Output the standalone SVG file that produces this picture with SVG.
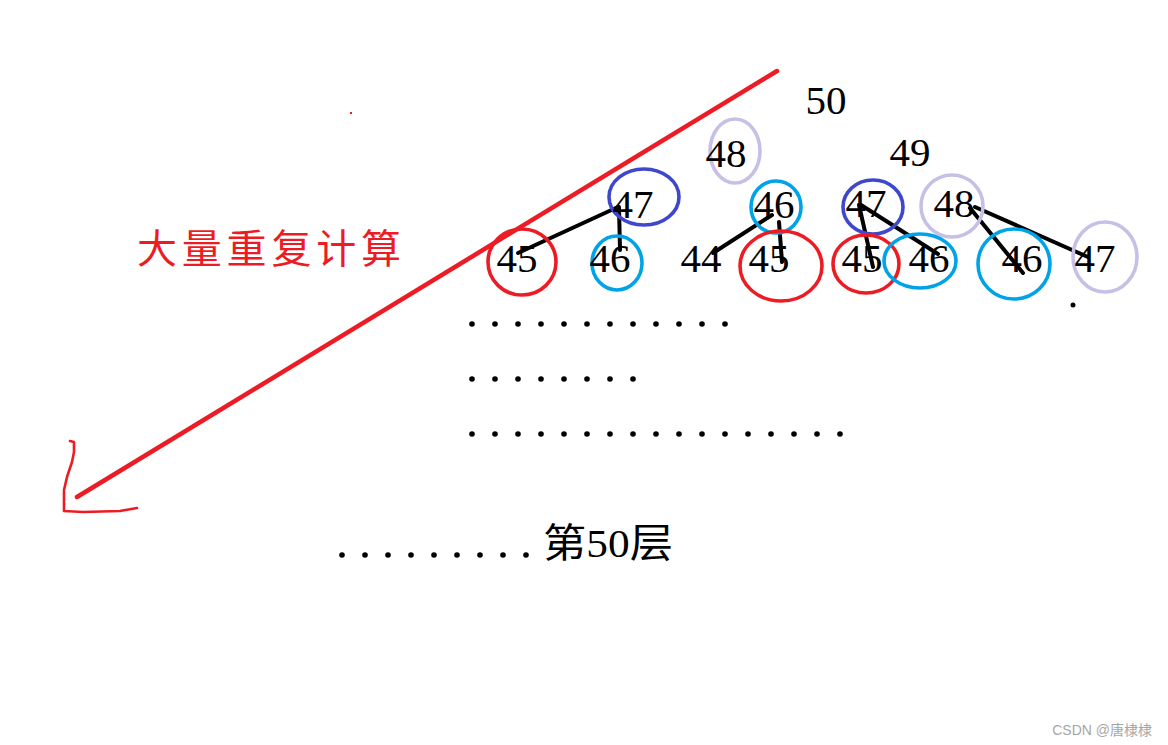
<svg xmlns="http://www.w3.org/2000/svg" width="1168" height="745" viewBox="0 0 1168 745">
<style>
.num{font-family:"Liberation Serif","DejaVu Serif",serif;font-size:41px;fill:#000;text-anchor:middle}
.e{fill:none;stroke-width:3.6}
.red{stroke:#ed1c24}
.cyan{stroke:#00a2e8}
.dblue{stroke:#3f48cc}
.lav{stroke:#c8bfe7}
.ln{stroke:#000;stroke-width:4;stroke-linecap:round;fill:none}
.dot{fill:#000}
</style>
<rect width="1168" height="745" fill="#fff"/>

<g id="red-arrow" fill="none" stroke="#ed1c24" stroke-linecap="round" stroke-linejoin="round">
  <line x1="777" y1="71" x2="77" y2="497" stroke-width="4.5"/>
  <path d="M70,441 L74,442 L74,452 L72,462 L67,477 L64,490 L64,511 L83,512 L120,511 L137,508" stroke-width="2.6"/>
  <rect x="350" y="112" width="2" height="2" fill="#ed1c24" stroke="none"/>
</g>
<text id="label-repeat" x="137" y="263" font-family="'Noto Sans CJK SC',sans-serif" font-size="40" fill="#ed1c24" textLength="264" lengthAdjust="spacing">大量重复计算</text>

<g id="connectors">
  <line class="ln" x1="618" y1="207" x2="518" y2="253"/>
  <line class="ln" x1="619" y1="207" x2="620" y2="250"/>
  <line class="ln" x1="772" y1="215" x2="713" y2="253"/>
  <line class="ln" x1="779" y1="222" x2="782" y2="262"/>
  <line class="ln" x1="859" y1="205" x2="873" y2="267"/>
  <line class="ln" x1="861" y1="205" x2="938" y2="254"/>
  <line class="ln" x1="970" y1="208" x2="1023" y2="273"/>
  <line class="ln" x1="975" y1="207" x2="1088" y2="257"/>
  <circle cx="1073" cy="305" r="2.5" class="dot"/>
</g>

<g id="n50"><text class="num" x="826" y="114">50</text></g>
<g id="n49"><text class="num" x="910" y="166">49</text></g>
<g id="n48a"><ellipse class="e lav" cx="735" cy="151" rx="25" ry="32"/><text class="num" x="726" y="167">48</text></g>
<g id="n47a"><ellipse class="e dblue" cx="644" cy="197" rx="35" ry="28"/><text class="num" x="633" y="218">47</text></g>
<g id="n46a"><ellipse class="e cyan" cx="776" cy="207" rx="25" ry="26"/><text class="num" x="774" y="218">46</text></g>
<g id="n47b"><ellipse class="e dblue" cx="873" cy="207" rx="30" ry="27"/><text class="num" x="866" y="217">47</text></g>
<g id="n48b"><ellipse class="e lav" cx="952" cy="206" rx="31" ry="31"/><text class="num" x="954" y="217">48</text></g>

<g id="n45a"><ellipse class="e red" cx="522" cy="262" rx="34" ry="33"/><text class="num" x="517" y="272">45</text></g>
<g id="n46b"><ellipse class="e cyan" cx="617" cy="263" rx="25" ry="27"/><text class="num" x="610" y="272">46</text></g>
<g id="n44"><text class="num" x="701" y="272">44</text></g>
<g id="n45b"><ellipse class="e red" cx="781" cy="266" rx="41" ry="35"/><text class="num" x="769" y="272">45</text></g>
<g id="n45c"><ellipse class="e red" cx="866" cy="264" rx="33" ry="29"/><text class="num" x="862" y="272">45</text></g>
<g id="n46c"><ellipse class="e cyan" cx="920" cy="261" rx="36" ry="27"/><text class="num" x="929" y="272">46</text></g>
<g id="n46d"><ellipse class="e cyan" cx="1014" cy="264" rx="36" ry="35"/><text class="num" x="1022" y="272">46</text></g>
<g id="n47c"><ellipse class="e lav" cx="1105" cy="257" rx="32" ry="35"/><text class="num" x="1095" y="272">47</text></g>

<g id="dots">
  <g id="row1">
    <circle class="dot" cx="472" cy="324" r="2.8"/><circle class="dot" cx="495" cy="324" r="2.8"/><circle class="dot" cx="518" cy="324" r="2.8"/><circle class="dot" cx="541" cy="324" r="2.8"/><circle class="dot" cx="564" cy="324" r="2.8"/><circle class="dot" cx="587" cy="324" r="2.8"/><circle class="dot" cx="610" cy="324" r="2.8"/><circle class="dot" cx="633" cy="324" r="2.8"/><circle class="dot" cx="656" cy="324" r="2.8"/><circle class="dot" cx="679" cy="324" r="2.8"/><circle class="dot" cx="702" cy="324" r="2.8"/><circle class="dot" cx="725" cy="324" r="2.8"/>
  </g>
  <g id="row2">
    <circle class="dot" cx="472" cy="379" r="2.8"/><circle class="dot" cx="495" cy="379" r="2.8"/><circle class="dot" cx="518" cy="379" r="2.8"/><circle class="dot" cx="541" cy="379" r="2.8"/><circle class="dot" cx="564" cy="379" r="2.8"/><circle class="dot" cx="587" cy="379" r="2.8"/><circle class="dot" cx="610" cy="379" r="2.8"/><circle class="dot" cx="633" cy="379" r="2.8"/>
  </g>
  <g id="row3">
    <circle class="dot" cx="472" cy="434" r="2.8"/><circle class="dot" cx="495" cy="434" r="2.8"/><circle class="dot" cx="518" cy="434" r="2.8"/><circle class="dot" cx="541" cy="434" r="2.8"/><circle class="dot" cx="564" cy="434" r="2.8"/><circle class="dot" cx="587" cy="434" r="2.8"/><circle class="dot" cx="610" cy="434" r="2.8"/><circle class="dot" cx="633" cy="434" r="2.8"/><circle class="dot" cx="656" cy="434" r="2.8"/><circle class="dot" cx="679" cy="434" r="2.8"/><circle class="dot" cx="702" cy="434" r="2.8"/><circle class="dot" cx="725" cy="434" r="2.8"/><circle class="dot" cx="748" cy="434" r="2.8"/><circle class="dot" cx="771" cy="434" r="2.8"/><circle class="dot" cx="794" cy="434" r="2.8"/><circle class="dot" cx="817" cy="434" r="2.8"/><circle class="dot" cx="840" cy="434" r="2.8"/>
  </g>
  <g id="row4">
    <circle class="dot" cx="342" cy="555" r="2.8"/><circle class="dot" cx="365" cy="555" r="2.8"/><circle class="dot" cx="388" cy="555" r="2.8"/><circle class="dot" cx="411" cy="555" r="2.8"/><circle class="dot" cx="434" cy="555" r="2.8"/><circle class="dot" cx="457" cy="555" r="2.8"/><circle class="dot" cx="480" cy="555" r="2.8"/><circle class="dot" cx="503" cy="555" r="2.8"/><circle class="dot" cx="526" cy="555" r="2.8"/>
  </g>
</g>
<g id="layer50"><text x="543" y="557" font-family="'Liberation Serif','Noto Sans CJK SC',serif" font-size="40" fill="#000" textLength="130" lengthAdjust="spacingAndGlyphs">第50层</text></g>

<text id="watermark" x="1152" y="735" text-anchor="end" font-family="'Liberation Sans','Noto Sans CJK SC',sans-serif" font-size="14" fill="#a6a6a6">CSDN @唐棣棣</text>
</svg>
